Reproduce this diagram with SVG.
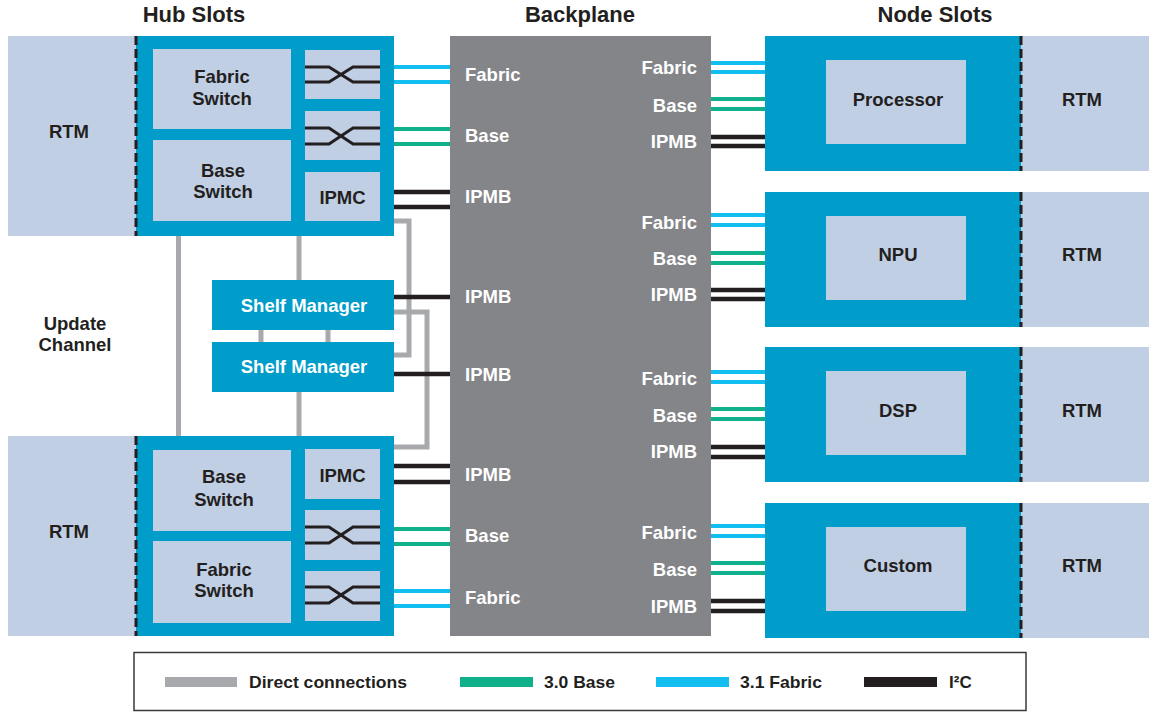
<svg xmlns="http://www.w3.org/2000/svg" width="1149" height="712" viewBox="0 0 1149 712">
<style>
text{font-family:"Liberation Sans",Arial,Helvetica,sans-serif;font-weight:bold;}
.t{font-size:18.5px;fill:#231f20;text-anchor:middle;}
.wm{font-size:18.5px;fill:#ffffff;text-anchor:middle;}
.we{font-size:18.5px;fill:#ffffff;text-anchor:end;}
.wl{font-size:18.5px;fill:#ffffff;}
.title{font-size:22px;fill:#231f20;text-anchor:middle;}
.leg{font-size:17px;fill:#231f20;}
.rtm{fill:#c1cfe5;}
.blue{fill:#009cca;}
.inner{fill:#c1cfe5;}
.dash{stroke:#231f20;stroke-width:3;stroke-dasharray:9 4;fill:none;}
.cross{stroke:#231f20;stroke-width:3;fill:none;}
.cy{stroke:#12bef0;stroke-width:4;fill:none;}
.gr{stroke:#0fb08a;stroke-width:4;fill:none;}
.bk{stroke:#231f20;stroke-width:4.5;fill:none;}
.dc{stroke:#a7a9ac;stroke-width:5;fill:none;}
</style>

<g id="titles">
<text class="title" x="194" y="22">Hub Slots</text>
<text class="title" x="580" y="22">Backplane</text>
<text class="title" x="935" y="22">Node Slots</text>
<text class="t" x="75" y="330">Update</text>
<text class="t" x="75" y="351">Channel</text>
</g>

<g id="connectors">
<path class="dc" d="M178.5,236 V436"/>
<path class="dc" d="M299,236 V280"/>
<path class="dc" d="M299,392 V436"/>
<path class="dc" d="M261,330 V342"/>
<path class="dc" d="M328,330 V342"/>
<path class="dc" d="M394,221 H409 V355 H394"/>
<path class="dc" d="M394,312 H427 V447 H394"/>
<path class="cy" d="M394,67 H450 M394,82 H450"/>
<path class="gr" d="M394,129 H450 M394,144 H450"/>
<path class="bk" d="M394,192 H450 M394,207 H450"/>
<path class="bk" d="M394,297 H450"/>
<path class="bk" d="M394,374 H450"/>
<path class="bk" d="M394,466 H450 M394,482 H450"/>
<path class="gr" d="M394,529 H450 M394,544 H450"/>
<path class="cy" d="M394,591 H450 M394,606 H450"/>
<path class="cy" d="M711,63 H765 M711,72 H765"/>
<path class="gr" d="M711,99 H765 M711,109 H765"/>
<path class="bk" d="M711,137 H765 M711,146 H765"/>
<path class="cy" d="M711,215 H765 M711,225 H765"/>
<path class="gr" d="M711,253 H765 M711,263 H765"/>
<path class="bk" d="M711,290 H765 M711,299 H765"/>
<path class="cy" d="M711,372 H765 M711,382 H765"/>
<path class="gr" d="M711,409 H765 M711,419 H765"/>
<path class="bk" d="M711,447 H765 M711,457 H765"/>
<path class="cy" d="M711,526 H765 M711,536 H765"/>
<path class="gr" d="M711,563 H765 M711,573 H765"/>
<path class="bk" d="M711,601 H765 M711,611 H765"/>
</g>

<g id="hub-top-rtm">
<rect class="rtm" x="8" y="36" width="128" height="200"/>
<text class="t" x="69" y="138">RTM</text>
</g>
<g id="hub-top">
<rect class="blue" x="136" y="36" width="258" height="200"/>
<line class="dash" x1="136" y1="36" x2="136" y2="236"/>
<rect class="inner" x="153" y="49" width="138" height="80"/>
<text class="t" x="222" y="83">Fabric</text>
<text class="t" x="222" y="105">Switch</text>
<rect class="inner" x="153" y="140" width="138" height="81"/>
<text class="t" x="223" y="177">Base</text>
<text class="t" x="223" y="198">Switch</text>
<rect class="inner" x="305" y="50" width="75" height="49"/>
<path class="cross" d="M305,67 H329 L353,82 H380 M305,82 H329 L353,67 H380"/>
<rect class="inner" x="305" y="111" width="75" height="49"/>
<path class="cross" d="M305,128 H329 L353,144 H380 M305,144 H329 L353,128 H380"/>
<rect class="inner" x="305" y="172" width="75" height="49"/>
<text class="t" x="342.5" y="204">IPMC</text>
</g>

<g id="shelf-manager-1">
<rect class="blue" x="212" y="280" width="182" height="50"/>
<text class="wm" x="304" y="312">Shelf Manager</text>
</g>
<g id="shelf-manager-2">
<rect class="blue" x="212" y="342" width="182" height="50"/>
<text class="wm" x="304" y="373">Shelf Manager</text>
</g>

<g id="hub-bottom-rtm">
<rect class="rtm" x="8" y="436" width="128" height="200"/>
<text class="t" x="69" y="538">RTM</text>
</g>
<g id="hub-bottom">
<rect class="blue" x="136" y="436" width="258" height="200"/>
<line class="dash" x1="136" y1="436" x2="136" y2="636"/>
<rect class="inner" x="153" y="450" width="138" height="81"/>
<text class="t" x="224" y="483">Base</text>
<text class="t" x="224" y="506">Switch</text>
<rect class="inner" x="153" y="541" width="138" height="82"/>
<text class="t" x="224" y="576">Fabric</text>
<text class="t" x="224" y="597">Switch</text>
<rect class="inner" x="305" y="449" width="75" height="50"/>
<text class="t" x="342.5" y="482">IPMC</text>
<rect class="inner" x="305" y="510" width="75" height="50"/>
<path class="cross" d="M305,527 H329 L353,543 H380 M305,543 H329 L353,527 H380"/>
<rect class="inner" x="305" y="571" width="75" height="50"/>
<path class="cross" d="M305,587 H329 L353,603 H380 M305,603 H329 L353,587 H380"/>
</g>

<g id="backplane">
<rect x="450" y="36" width="261" height="600" fill="#848589"/>
<text class="wl" x="465" y="81">Fabric</text>
<text class="wl" x="465" y="142">Base</text>
<text class="wl" x="465" y="203">IPMB</text>
<text class="wl" x="465" y="303">IPMB</text>
<text class="wl" x="465" y="381">IPMB</text>
<text class="wl" x="465" y="481">IPMB</text>
<text class="wl" x="465" y="542">Base</text>
<text class="wl" x="465" y="604">Fabric</text>
<text class="we" x="697" y="74">Fabric</text>
<text class="we" x="697" y="112">Base</text>
<text class="we" x="697" y="148">IPMB</text>
<text class="we" x="697" y="229">Fabric</text>
<text class="we" x="697" y="265">Base</text>
<text class="we" x="697" y="301">IPMB</text>
<text class="we" x="697" y="385">Fabric</text>
<text class="we" x="697" y="422">Base</text>
<text class="we" x="697" y="458">IPMB</text>
<text class="we" x="697" y="539">Fabric</text>
<text class="we" x="697" y="576">Base</text>
<text class="we" x="697" y="613">IPMB</text>
</g>

<g id="node-processor">
<rect class="blue" x="765" y="36" width="256" height="135"/>
<rect class="inner" x="826" y="60" width="140" height="84"/>
<text class="t" x="898" y="106">Processor</text>
<rect class="rtm" x="1021" y="36" width="128" height="135"/>
<line class="dash" x1="1021" y1="36" x2="1021" y2="171"/>
<text class="t" x="1082" y="106">RTM</text>
</g>
<g id="node-npu">
<rect class="blue" x="765" y="192" width="256" height="135"/>
<rect class="inner" x="826" y="216" width="140" height="84"/>
<text class="t" x="898" y="261">NPU</text>
<rect class="rtm" x="1021" y="192" width="128" height="135"/>
<line class="dash" x1="1021" y1="192" x2="1021" y2="327"/>
<text class="t" x="1082" y="261">RTM</text>
</g>
<g id="node-dsp">
<rect class="blue" x="765" y="347" width="256" height="135"/>
<rect class="inner" x="826" y="371" width="140" height="84"/>
<text class="t" x="898" y="417">DSP</text>
<rect class="rtm" x="1021" y="347" width="128" height="135"/>
<line class="dash" x1="1021" y1="347" x2="1021" y2="482"/>
<text class="t" x="1082" y="417">RTM</text>
</g>
<g id="node-custom">
<rect class="blue" x="765" y="503" width="256" height="135"/>
<rect class="inner" x="826" y="527" width="140" height="84"/>
<text class="t" x="898" y="572">Custom</text>
<rect class="rtm" x="1021" y="503" width="128" height="135"/>
<line class="dash" x1="1021" y1="503" x2="1021" y2="638"/>
<text class="t" x="1082" y="572">RTM</text>
</g>

<g id="legend">
<rect x="134" y="652.5" width="892" height="58" fill="#ffffff" stroke="#3a3a3c" stroke-width="1.5"/>
<rect x="165" y="677" width="72" height="10" fill="#a7a9ac"/>
<text class="leg" x="249" y="688" textLength="158" lengthAdjust="spacingAndGlyphs">Direct connections</text>
<rect x="460" y="677" width="73" height="10" fill="#0fb08a"/>
<text class="leg" x="544" y="688" textLength="71" lengthAdjust="spacingAndGlyphs">3.0 Base</text>
<rect x="656" y="677" width="73" height="10" fill="#12bef0"/>
<text class="leg" x="740" y="688" textLength="82" lengthAdjust="spacingAndGlyphs">3.1 Fabric</text>
<rect x="864" y="677" width="73" height="10" fill="#231f20"/>
<text class="leg" x="949" y="688">I²C</text>
</g>
</svg>
